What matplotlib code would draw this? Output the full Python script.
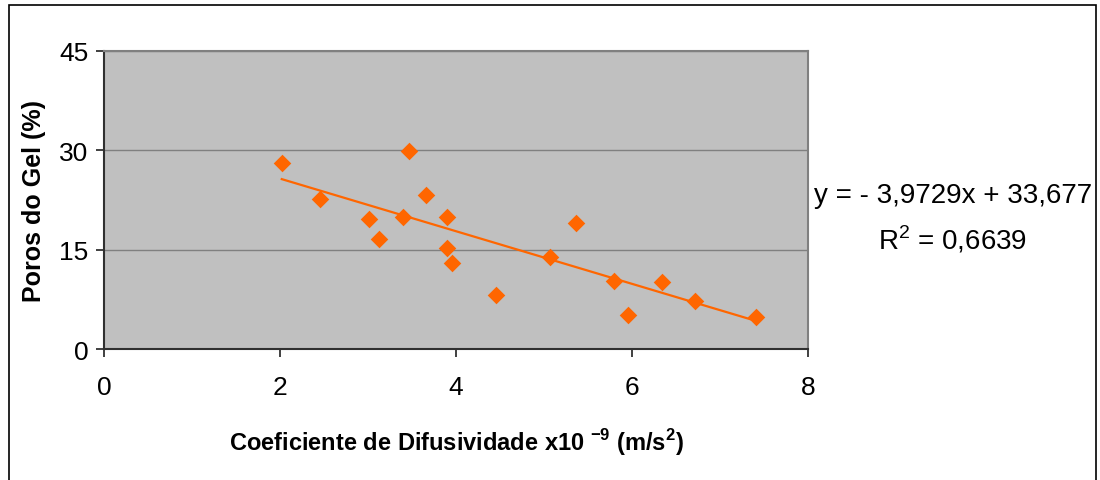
import matplotlib.pyplot as plt
import matplotlib.patches as patches
import numpy as np

# Diffusivity coefficient (x10^-9 m/s2) vs gel pores (%)
difusividade = [2.02, 2.45, 3.01, 3.13, 3.40, 3.47, 3.66, 3.90, 3.90,
                3.95, 4.45, 5.07, 5.36, 5.79, 5.95, 6.34, 6.72, 7.41]
poros_gel = [28.1, 22.7, 19.6, 16.6, 19.9, 29.9, 23.3, 19.9, 15.2,
             13.0, 8.2, 13.9, 19.0, 10.3, 5.1, 10.1, 7.3, 4.8]

# linear trendline (from the chart)
slope = -3.9729
intercept = 33.677
r2 = 0.6639

xticks = [0, 2, 4, 6, 8]
yticks = [0, 15, 30, 45]

plt.rcParams['font.family'] = ['Liberation Sans', 'DejaVu Sans']
plt.rcParams['mathtext.fontset'] = 'custom'
plt.rcParams['mathtext.rm'] = 'Liberation Sans'
plt.rcParams['mathtext.bf'] = 'Liberation Sans:bold'
orange = '#FF6600'

fig = plt.figure(figsize=(11, 4.81), dpi=100)
ax = fig.add_axes([104 / 1100, 1 - 350 / 481, 704 / 1100, 298 / 481])
ax.set_facecolor('#C0C0C0')

ax.scatter(difusividade, poros_gel, marker='D', s=80, color=orange, zorder=3, linewidths=0)
xs = np.array([min(difusividade), max(difusividade)])
ax.plot(xs, slope * xs + intercept, color=orange, lw=1.6, zorder=2)

ax.set_xlim(0, 8)
ax.set_ylim(0, 45)
ax.set_xticks(xticks)
ax.set_yticks(yticks)
ax.yaxis.grid(True, color='#808080', lw=1)
ax.set_axisbelow(True)
ax.tick_params(axis='both', direction='out', length=6, width=1.2, color='#202020',
               labelsize=19, pad=5)
ax.tick_params(axis='x', pad=13)
for side in ['left', 'bottom']:
    ax.spines[side].set_color('#303030')
    ax.spines[side].set_linewidth(1.5)
for side in ['top', 'right']:
    ax.spines[side].set_color('#808080')
    ax.spines[side].set_linewidth(1.5)

ax.set_ylabel('Poros do Gel (%)', fontsize=18, fontweight='bold', labelpad=10)
ax.set_xlabel(r'Coeficiente de Difusividade x10 $^{\mathbf{-9}}$ (m/s$^{\mathbf{2}}$)',
              fontsize=17, fontweight='bold', labelpad=19)

eq = 'y = - {:.4f}x + {:.3f}'.format(abs(slope), intercept).replace('.', ',')
fig.text(953 / 1100, 1 - 196 / 481, eq, fontsize=20, ha='center', va='center')
fig.text(953 / 1100, 1 - 240 / 481, r'R$^2$ = ' + '{:.4f}'.format(r2).replace('.', ','),
         fontsize=20, ha='center', va='center')

# outer chart border (bottom edge falls outside the image)
fig.patches.append(patches.Rectangle((9 / 1100, -0.05), 1087 / 1100, 1.05 - 6 / 481,
                                     transform=fig.transFigure, fill=False,
                                     edgecolor='black', lw=1.2))

fig.savefig('out.png', dpi=100)
